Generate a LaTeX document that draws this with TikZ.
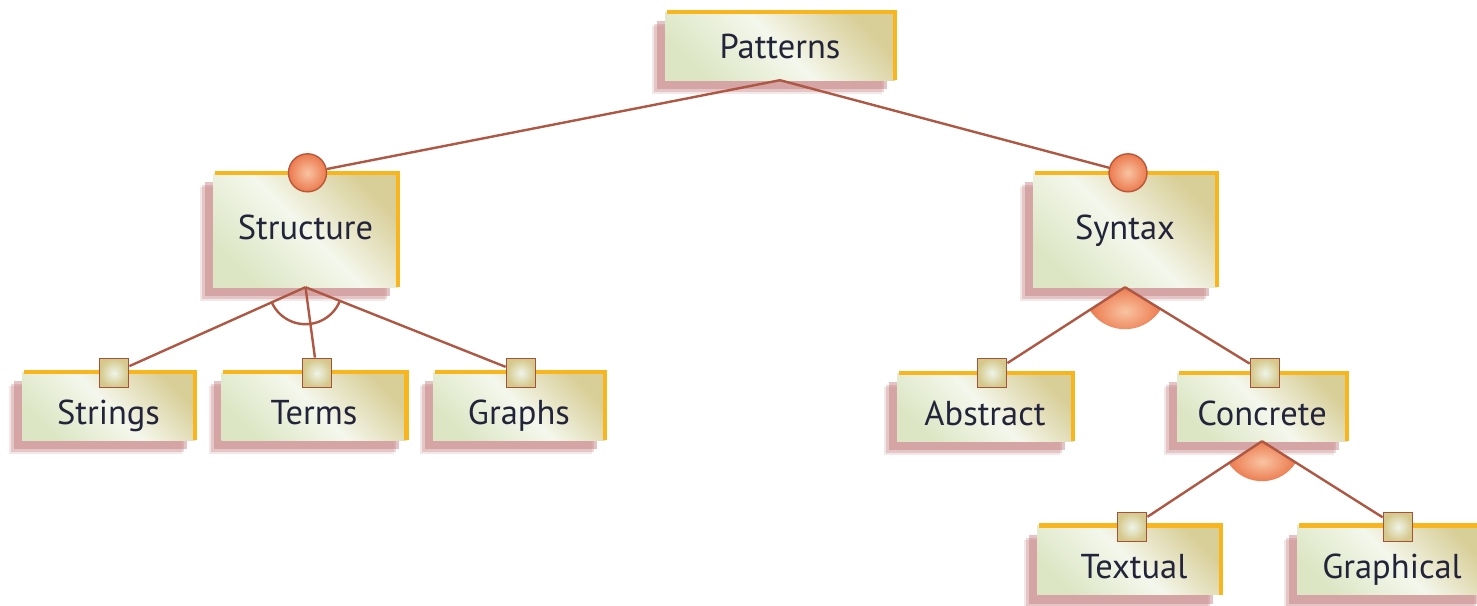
\documentclass[tikz,border=0pt]{standalone}
\usepackage{fontspec}
\setmainfont{PT Sans}
\usetikzlibrary{shadows,calc}
\definecolor{edgeorange}{HTML}{F9B51C}
\definecolor{shadowc}{HTML}{C27A7A}
\definecolor{linec}{HTML}{AE5743}
\definecolor{faceA}{HTML}{DCE6C4}
\definecolor{faceB}{HTML}{D8CE98}
\definecolor{faceM}{HTML}{F4F7EC}
\definecolor{txt}{HTML}{23243A}
\definecolor{ballout}{HTML}{EC7A4E}
\definecolor{ballin}{HTML}{F8C4A2}
\definecolor{ballrim}{HTML}{B8583A}
\definecolor{sqout}{HTML}{D4C88A}
\definecolor{sqin}{HTML}{EEF4E8}
\definecolor{sqrim}{HTML}{A5523A}
\pgfdeclarelayer{conn}
\pgfdeclarelayer{top}
\pgfsetlayers{main,conn,top}
\tikzset{
  face/.style={rectangle, inner sep=0pt,
    top color=faceA, bottom color=faceB, middle color=faceM, shading angle=135,
    font=\fontsize{34.5}{40}\selectfont, text=txt,
    drop shadow={shadow xshift=-13pt, shadow yshift=-14pt, fill=shadowc, opacity=0.18},
    drop shadow={shadow xshift=-11pt, shadow yshift=-12pt, fill=shadowc, opacity=0.3},
    drop shadow={shadow xshift=-8pt, shadow yshift=-9pt, fill=shadowc, opacity=0.45}},
  leaf/.style={face, minimum height=68pt, text height=40pt, text depth=4pt},
  rim/.style={draw=edgeorange, line width=4.5pt, line join=miter},
  conn/.style={draw=linec, line width=2.4pt},
  ball/.style={circle, inner sep=0pt, minimum size=38pt, draw=ballrim, line width=1.4pt,
    inner color=ballin, outer color=ballout},
  sq/.style={rectangle, inner sep=0pt, minimum size=29pt, draw=sqrim, line width=1.8pt,
    inner color=sqin, outer color=sqout},
  sector/.style={inner color=ballin, outer color=ballout}
}
\begin{document}
\begin{tikzpicture}[x=1pt,y=1pt]
\useasboundingbox (0,0) rectangle (1477,-605);
% boxes
\node[face, minimum width=230pt, minimum height=68pt, text height=27pt, text depth=3pt] (patterns) at (780,-46) {Patterns};
\node[face, minimum width=185pt, minimum height=114pt, text height=22pt, text depth=4pt] (structure) at (305.5,-230) {Structure};
\node[face, minimum width=184pt, minimum height=114pt, text height=22pt, text depth=4pt] (syntax) at (1125,-230) {Syntax};
\node[leaf, minimum width=173pt] (strings) at (108.5,-406) {Strings};
\node[leaf, minimum width=185pt] (terms) at (314,-406) {Terms};
\node[leaf, minimum width=172pt] (graphs) at (519,-406) {Graphs};
\node[leaf, minimum width=176pt] (abstract) at (985,-407) {Abstract};
\node[leaf, minimum width=170pt] (concrete) at (1262,-407) {Concrete};
\node[leaf, minimum width=184pt, minimum height=69pt] (textual) at (1129,-560) {\hspace*{10pt}Textual};
\node[leaf, minimum width=190pt, minimum height=69pt] (graphical) at (1392,-560) {Graphical};
\foreach \n in {patterns,structure,syntax,strings,terms,graphs,abstract,concrete,textual,graphical}
  \draw[rim] ([xshift=2pt]\n.north west) -- (\n.north east) -- (\n.south east);
% decorations on top
\begin{pgfonlayer}{top}
\node[ball] (cS) at ([xshift=2pt]structure.north) {};
\node[ball] (cY) at ([xshift=3pt]syntax.north) {};
\node[sq] (sqS) at (114,-373) {};
\node[sq] (sqT) at (317,-373) {};
\node[sq] (sqG) at (521,-373) {};
\node[sq] (sqA) at (992,-373) {};
\node[sq] (sqC) at (1265,-373) {};
\node[sq] (sqX) at (1132,-527) {};
\node[sq] (sqP) at (1398,-527) {};
\end{pgfonlayer}
% connectors
\begin{pgfonlayer}{conn}
\draw[conn] (patterns.south) -- (cS);
\draw[conn] (patterns.south) -- (cY);
% Structure: or-group (open arc)
\draw[conn] let \p1=($(sqS)-(structure.south)$), \p2=($(sqG)-(structure.south)$),
  \n1={atan2(\y1,\x1)}, \n2={atan2(\y2,\x2)} in
  (structure.south) ++(\n1:37pt) arc[start angle=\n1, end angle=\n2, radius=37pt];
\draw[conn] (structure.south) -- (sqS);
\draw[conn] (structure.south) -- (sqT);
\draw[conn] (structure.south) -- (sqG);
% Syntax: alternative (filled sector)
\shade[sector] let \p1=($(sqA)-(syntax.south)$), \p2=($(sqC)-(syntax.south)$),
  \n1={atan2(\y1,\x1)}, \n2={atan2(\y2,\x2)} in
  (syntax.south) -- ++(\n1:42pt) arc[start angle=\n1, end angle=\n2, radius=42pt] -- cycle;
\draw[conn] (syntax.south) -- (sqA);
\draw[conn] (syntax.south) -- (sqC);
% Concrete: alternative (filled sector)
\shade[sector] let \p1=($(sqX)-(concrete.south)$), \p2=($(sqP)-(concrete.south)$),
  \n1={atan2(\y1,\x1)}, \n2={atan2(\y2,\x2)} in
  (concrete.south) -- ++(\n1:40pt) arc[start angle=\n1, end angle=\n2, radius=40pt] -- cycle;
\draw[conn] (concrete.south) -- (sqX);
\draw[conn] (concrete.south) -- (sqP);
\end{pgfonlayer}
\end{tikzpicture}
\end{document}
